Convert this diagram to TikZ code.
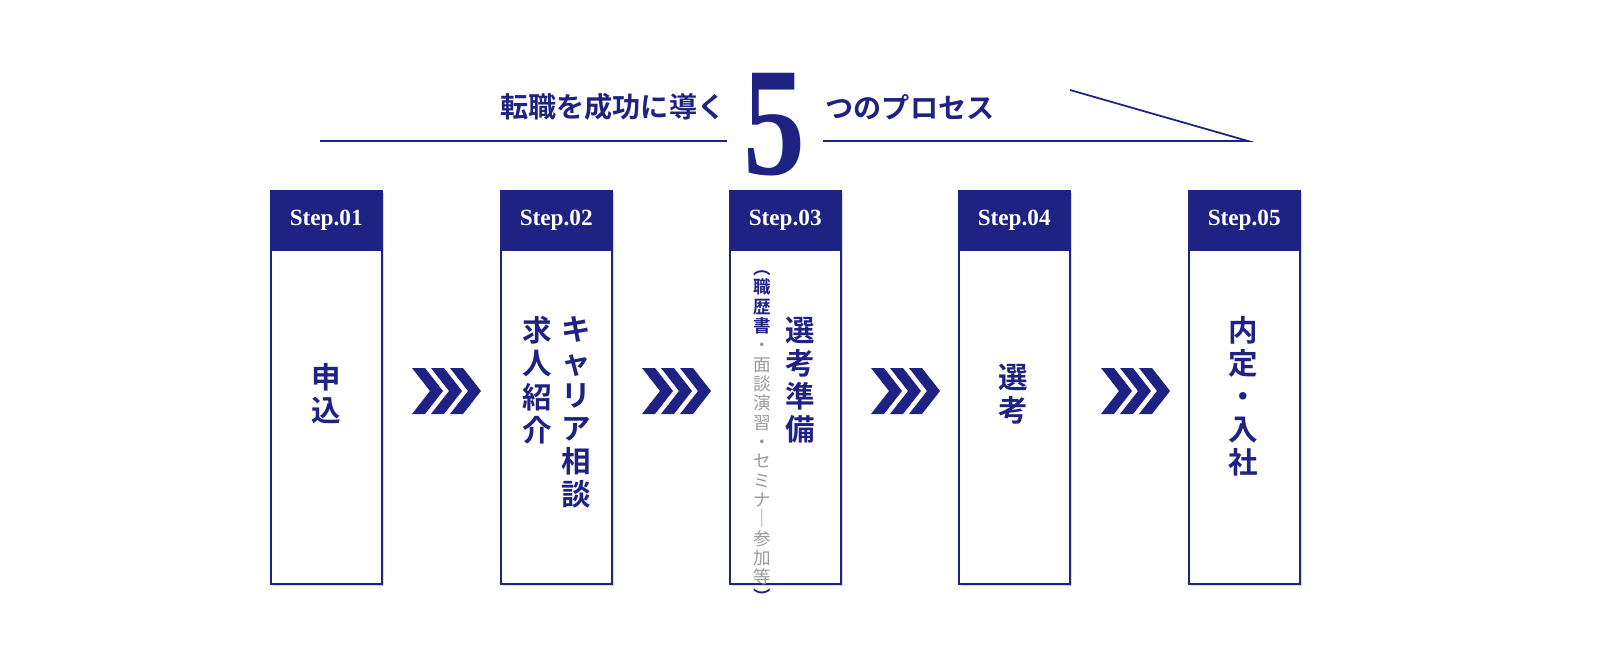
\documentclass[tikz,border=0pt]{standalone}
\usepackage{fontspec}
\newfontfamily\jp{Noto Sans CJK JP}
\newfontfamily\jpb{Noto Sans CJK JP Bold}
\newfontfamily\rom{Liberation Serif}
\usetikzlibrary{positioning}
\definecolor{navy}{HTML}{1E2283}
\newcommand{\nb}[1]{\textcolor{navy}{\jpb #1}}
\tikzset{stepbox/.style={draw=navy,fill=white,line width=0.5pt,minimum width=1.11cm,minimum height=3.93cm,anchor=north west,inner sep=0pt},
         stephead/.style={fill=navy,text=white,minimum width=1.11cm,minimum height=0.6cm,anchor=north west,inner sep=0pt,font=\rom\bfseries\fontsize{6.6}{7}\selectfont},
         vcol/.style={anchor=north,align=center,inner sep=0pt,text=navy,font=\jpb\fontsize{8.4}{9.4}\selectfont},
         vsmall/.style={anchor=north,align=center,inner sep=0pt,text=black!40,font=\jp\fontsize{5}{5.5}\selectfont},
         chev/.style={fill=navy,draw=none}
}
\begin{document}
\begin{tikzpicture}[x=1cm,y=1cm]
\useasboundingbox (0,0) rectangle (16,6.63);
% title
\node[inner sep=0pt,text=navy,font=\jpb\fontsize{8}{8}\selectfont,anchor=east] (ttl) at (7.26,5.56) {転職を成功に導く};
\node[inner sep=0pt,text=navy,font=\rom\bfseries\fontsize{44}{44}\selectfont,xscale=0.8] (five) at (7.74,5.38) {5};
\node[inner sep=0pt,text=navy,font=\jpb\fontsize{8}{8}\selectfont,anchor=west] (ttr) at (8.25,5.56) {つのプロセス};
\coordinate (l1) at (3.2,5.22); \coordinate (l2) at (7.27,5.22);
\coordinate (r1) at (8.23,5.22); \coordinate (r2) at (12.48,5.22); \coordinate (r3) at (10.7,5.73);
\draw[navy,line width=0.5pt] (l1) -- (l2);
\draw[navy,line width=0.5pt] (r1) -- (r2) -- (r3);
% boxes
\foreach \x/\n in {2.70/01,5.00/02,7.29/03,9.58/04,11.88/05}{
  \fill[black!15] (\x+0.03,4.73-0.03) rectangle ++(1.11,-3.93);
  \node[stepbox] (box\n) at (\x,4.73) {};
  \node[stephead] (head\n) at (\x,4.73) {Step.\n};
}
% chevrons
\foreach \cx in {4.12,6.42,8.71,11.01}{
  \foreach \i in {0,1,2}{
    \fill[chev] (\cx+0.19*\i,2.95) -- ++(0.13,0) -- ++(0.18,-0.23) -- ++(-0.18,-0.23) -- ++(-0.13,0) -- ++(0.18,0.23) -- cycle;
  }
}
% texts
\node[vcol] (t1) at (3.26,3.0) {申\\込};
\node[vcol] (t2a) at (5.76,3.47) {キ\\ャ\\リ\\ア\\相\\談};
\node[vcol] (t2b) at (5.37,3.47) {求\\人\\紹\\介};
\node[vcol] (t3a) at (8.00,3.47) {選\\考\\準\\備};
\node[vsmall] (t3b) at (7.62,3.93) {\nb{︵}\\\nb{職}\\\nb{歴}\\\nb{書}\\・\\面\\談\\演\\習\\・\\セ\\ミ\\ナ\\｜\\参\\加\\等\\\nb{︶}};
\node[vcol] (t4) at (10.13,3.0) {選\\考};
\node[vcol] (t5) at (12.43,3.47) {内\\定\\・\\入\\社};
\end{tikzpicture}
\end{document}
